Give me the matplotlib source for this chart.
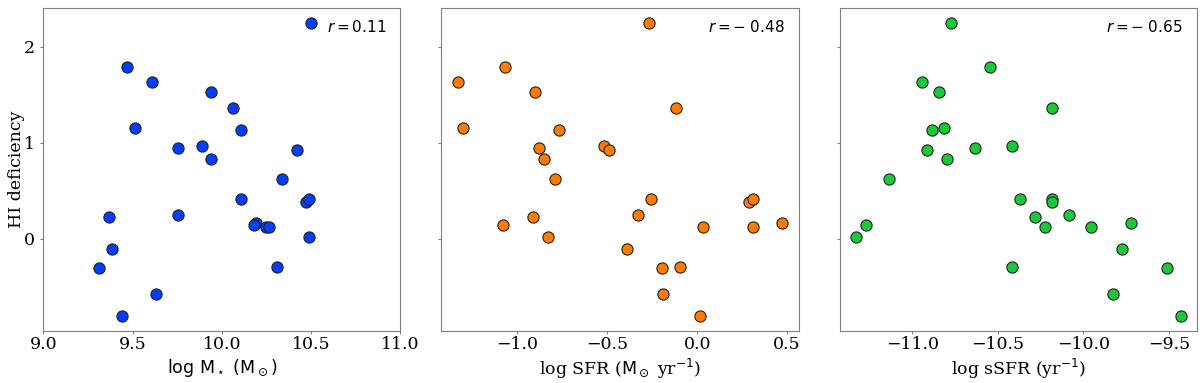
import matplotlib

matplotlib.use("Agg")
import matplotlib.pyplot as plt

# HI deficiency (shared y) and the three x quantities, one entry per galaxy
hi_def = [2.25, 1.785, 1.637, 1.526, 1.367, 1.149, 1.131, 0.948, 0.969, 0.920,
          0.830, 0.619, 0.412, 0.381, 0.412, 0.228, 0.253, 0.163, 0.149, 0.128,
          0.118, 0.021, -0.111, -0.308, -0.298, -0.578, -0.806]
log_mstar = [10.50, 9.469, 9.611, 9.939, 10.063, 9.512, 10.109, 9.753, 9.891, 10.419,
             9.939, 10.339, 10.109, 10.470, 10.490, 9.370, 9.753, 10.190, 10.180, 10.246,
             10.262, 10.490, 9.383, 9.310, 10.309, 9.629, 9.443]
log_sfr = [-0.270, -1.068, -1.330, -0.900, -0.120, -1.300, -0.770, -0.877, -0.519, -0.489,
           -0.849, -0.792, -0.257, 0.290, 0.312, -0.911, -0.330, 0.474, -1.081, 0.030,
           0.312, -0.831, -0.389, -0.196, -0.098, -0.189, 0.0135]
log_ssfr = [-10.774, -10.545, -10.945, -10.846, -10.182, -10.817, -10.885, -10.635, -10.416, -10.916,
            -10.797, -11.139, -10.374, -10.184, -10.184, -10.284, -10.083, -9.722, -11.269, -10.223,
            -9.954, -11.330, -9.772, -9.511, -10.416, -9.825, -9.431]
sfr_y = [2.25, 1.785, 1.637, 1.526, 1.367, 1.149, 1.131, 0.948, 0.969, 0.920,
         0.830, 0.619, 0.412, 0.381, 0.412, 0.228, 0.253, 0.163, 0.149, 0.128,
         0.118, 0.021, -0.111, -0.308, -0.298, -0.578, -0.806]
ssfr_y = [2.25, 1.785, 1.637, 1.526, 1.367, 1.149, 1.131, 0.948, 0.969, 0.920,
          0.830, 0.619, 0.412, 0.412, 0.381, 0.228, 0.253, 0.163, 0.149, 0.128,
          0.118, 0.021, -0.111, -0.308, -0.298, -0.578, -0.806]

r_values = [0.11, -0.48, -0.65]
colors = ["#023eff", "#ff7c00", "#1ac938"]
xlabels = [r"$\rm log\ M_\star\ (M_\odot)$",
           r"log SFR ($\rm M_\odot$ yr$^{-1}$)",
           r"log sSFR (yr$^{-1}$)"]

plt.rcParams["font.family"] = "DejaVu Serif"
plt.rcParams["mathtext.fontset"] = "dejavusans"

fig, axes = plt.subplots(1, 3, figsize=(12, 3.83), dpi=100, sharey=True)
fig.subplots_adjust(left=0.036, right=0.9975, top=0.979, bottom=0.136, wspace=0.115)

panels = [(log_mstar, hi_def), (log_sfr, sfr_y), (log_ssfr, ssfr_y)]
for ax, (xs, ys), c, lab, r in zip(axes, panels, colors, xlabels, r_values):
    ax.scatter(xs, ys, s=65, color=c, edgecolor="#222222", linewidth=0.8, zorder=3)
    ax.set_xlabel(lab, fontsize=12.5, labelpad=3)
    ax.tick_params(axis="x", labelsize=12.5, length=2, pad=1.5, color="0.5")
    ax.tick_params(axis="y", labelsize=12.5, length=2, pad=4, color="0.5")
    for sp in ax.spines.values():
        sp.set_color("0.5")
    if r < 0:
        rtxt = rf"$r = -\;{abs(r):.2f}$"
    else:
        rtxt = rf"$r = {r:.2f}$"
    ax.text(0.96, 0.94, rtxt, transform=ax.transAxes,
            ha="right", va="center", fontsize=11, family="DejaVu Sans")

axes[0].set_xlim(9.0, 11.0)
axes[0].set_xticks([9.0, 9.5, 10.0, 10.5, 11.0])
axes[1].set_xticks([-1.0, -0.5, 0.0, 0.5])
axes[2].set_xticks([-11.0, -10.5, -10.0, -9.5])
axes[0].set_yticks([0, 1, 2])
axes[0].set_ylabel("HI deficiency", fontsize=12.5, labelpad=-1)

fig.savefig("out.png", dpi=100)
